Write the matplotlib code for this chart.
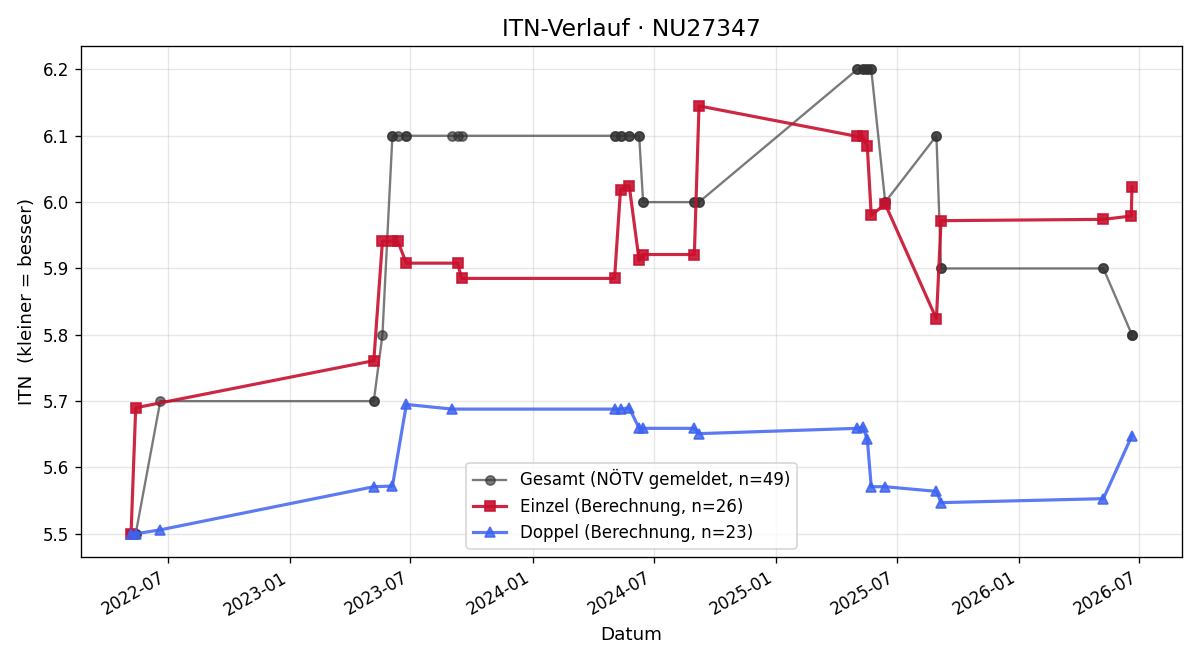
import matplotlib
matplotlib.use("Agg")
import matplotlib.pyplot as plt
import matplotlib.dates as mdates
import pandas as pd

gesamt_dates = [
    "2022-05-07", "2022-05-07", "2022-05-14", "2022-05-14", "2022-06-20",
    "2023-05-07", "2023-05-07", "2023-05-20", "2023-06-04", "2023-06-04",
    "2023-06-12", "2023-06-25", "2023-06-25", "2023-09-02", "2023-09-10",
    "2023-09-16", "2024-05-03", "2024-05-03", "2024-05-12", "2024-05-12",
    "2024-05-25", "2024-05-25", "2024-06-09", "2024-06-09", "2024-06-15",
    "2024-06-15", "2024-08-31", "2024-08-31", "2024-09-07", "2024-09-07",
    "2025-05-03", "2025-05-03", "2025-05-11", "2025-05-11", "2025-05-18",
    "2025-05-18", "2025-05-24", "2025-05-24", "2025-06-14", "2025-06-14",
    "2025-08-30", "2025-08-30", "2025-09-06", "2025-09-06", "2026-05-08",
    "2026-05-08", "2026-06-20", "2026-06-20", "2026-06-20",
]
gesamt_values = [
    5.5, 5.5, 5.5, 5.5, 5.7,
    5.7, 5.7, 5.8, 6.1, 6.1,
    6.1, 6.1, 6.1, 6.1, 6.1,
    6.1, 6.1, 6.1, 6.1, 6.1,
    6.1, 6.1, 6.1, 6.1, 6.0,
    6.0, 6.0, 6.0, 6.0, 6.0,
    6.2, 6.2, 6.2, 6.2, 6.2,
    6.2, 6.2, 6.2, 6.0, 6.0,
    6.1, 6.1, 5.9, 5.9, 5.9,
    5.9, 5.8, 5.8, 5.8,
]

einzel_dates = [
    "2022-05-07", "2022-05-14", "2023-05-07", "2023-05-20", "2023-06-04",
    "2023-06-12", "2023-06-25", "2023-09-10", "2023-09-16", "2024-05-03",
    "2024-05-12", "2024-05-25", "2024-06-09", "2024-06-15", "2024-08-31",
    "2024-09-07", "2025-05-03", "2025-05-11", "2025-05-18", "2025-05-24",
    "2025-06-14", "2025-08-30", "2025-09-06", "2026-05-08", "2026-06-19",
    "2026-06-20",
]
einzel_values = [
    5.500, 5.690, 5.761, 5.941, 5.941,
    5.941, 5.908, 5.908, 5.885, 5.885,
    6.019, 6.025, 5.912, 5.921, 5.921,
    6.145, 6.099, 6.099, 6.085, 5.980,
    5.997, 5.824, 5.972, 5.974, 5.979,
    6.023,
]

doppel_dates = [
    "2022-05-07", "2022-05-14", "2022-06-20", "2023-05-07", "2023-06-04",
    "2023-06-25", "2023-09-02", "2024-05-03", "2024-05-12", "2024-05-25",
    "2024-06-09", "2024-06-15", "2024-08-31", "2024-09-07", "2025-05-03",
    "2025-05-11", "2025-05-18", "2025-05-24", "2025-06-14", "2025-08-30",
    "2025-09-06", "2026-05-08", "2026-06-20",
]
doppel_values = [
    5.500, 5.500, 5.506, 5.571, 5.572,
    5.695, 5.688, 5.688, 5.688, 5.690,
    5.659, 5.659, 5.659, 5.651, 5.659,
    5.661, 5.643, 5.571, 5.571, 5.564,
    5.547, 5.553, 5.648,
]

labels = [
    "Gesamt (NÖTV gemeldet, n=49)",
    "Einzel (Berechnung, n=26)",
    "Doppel (Berechnung, n=23)",
]

fig, ax = plt.subplots(figsize=(10, 5.5), dpi=120)

ax.plot(pd.to_datetime(gesamt_dates), gesamt_values, marker="o", color="#333333",
        alpha=0.65, linewidth=1.4, markersize=5.5, label=labels[0])
ax.plot(pd.to_datetime(einzel_dates), einzel_values, marker="s", color="#c8102e",
        alpha=0.9, linewidth=1.9, markersize=6.5, label=labels[1])
ax.plot(pd.to_datetime(doppel_dates), doppel_values, marker="^", color="#3f63f0",
        alpha=0.85, linewidth=1.9, markersize=6.5, label=labels[2])

ax.set_title("ITN-Verlauf · NU27347", fontsize=14)
ax.set_xlabel("Datum", fontsize=11)
ax.set_ylabel("ITN  (kleiner = besser)", fontsize=11)
ax.grid(True, alpha=0.3)
ax.xaxis.set_major_locator(mdates.MonthLocator(bymonth=[1, 7]))
ax.xaxis.set_major_formatter(mdates.DateFormatter("%Y-%m"))
fig.autofmt_xdate()
ax.legend(loc="lower center")

fig.subplots_adjust(left=0.0675, right=0.985, top=0.930, bottom=0.156)
fig.savefig("out.png", dpi=120)
